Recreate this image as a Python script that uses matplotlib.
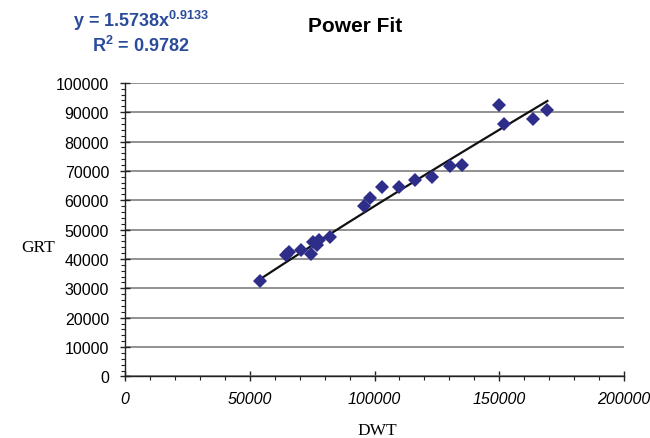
import numpy as np
import matplotlib
matplotlib.use("Agg")
import matplotlib.pyplot as plt
from matplotlib.ticker import MultipleLocator

# Data
dwt = [54300, 64500, 65700, 70500, 74500, 75400, 77000, 77800, 82200,
       95600, 98200, 103200, 109800, 116200, 123200, 130100, 134900,
       149900, 152100, 163700, 169300]
grt = [32600, 41400, 42400, 42900, 41700, 45800, 44800, 46500, 47500,
       57900, 60800, 64600, 64600, 66800, 67800, 71500, 71900,
       92300, 86000, 87600, 90600]
fit_a = 1.5738
fit_b = 0.9133
r_squared = 0.9782
title_text = "Power Fit"
x_label = "DWT"
y_label = "GRT"

x = np.array(dwt, dtype=float)
y = np.array(grt, dtype=float)
xf = np.linspace(x.min(), x.max(), 200)
yf = fit_a * xf ** fit_b

equation_text = r"y = %.4fx$^{\mathregular{%.4f}}$" % (fit_a, fit_b)
r2_text = r"R$^{\mathregular{2}}$ = %.4f" % r_squared

fig = plt.figure(figsize=(6.5, 4.39), dpi=100)
ax = fig.add_axes([125/650, 1-377.4/439, (624-125)/650, (377.4-83.8)/439])

ax.set_xlim(0, 200000)
ax.set_ylim(0, 100000)
ax.yaxis.set_major_locator(MultipleLocator(10000))
ax.yaxis.set_minor_locator(MultipleLocator(2000))
ax.xaxis.set_major_locator(MultipleLocator(50000))
ax.xaxis.set_minor_locator(MultipleLocator(10000))

ax.grid(axis="y", which="major", color="#7f7f7f", linewidth=1.2)
ax.set_axisbelow(True)
for s in ["top", "right"]:
    ax.spines[s].set_visible(False)
for s in ["left", "bottom"]:
    ax.spines[s].set_color("#222222")
    ax.spines[s].set_linewidth(1.0)

ax.tick_params(axis="both", which="major", direction="inout", length=7,
               width=1.0, color="#222222")
ax.tick_params(axis="both", which="minor", direction="out", length=3,
               width=0.8, color="#222222")
ax.tick_params(axis="y", which="major", labelsize=11.5, pad=8)
ax.tick_params(axis="x", which="major", labelsize=11.5, pad=7)

for lab in ax.get_yticklabels():
    lab.set_fontfamily("Liberation Sans")
for lab in ax.get_xticklabels():
    lab.set_fontfamily("Liberation Sans")
    lab.set_fontstyle("italic")

ax.plot(xf, yf, color="#111111", linewidth=1.6, zorder=3)
ax.plot(x, y, linestyle="none", marker="D", markersize=7,
        color="#2e2e8a", markeredgewidth=0, zorder=4)

fig.text(377/650, 1-431/439, x_label, family="Liberation Serif",
         fontsize=12.5, ha="center", va="center")
fig.text(38/650, 1-248/439, y_label, family="Liberation Serif",
         fontsize=12.5, ha="center", va="center")
fig.text(355/650, 1-27/439, title_text, family="Liberation Sans",
         fontweight="bold", fontsize=15, ha="center", va="center")
fig.text(73/650, 1-21/439, equation_text, family="Liberation Sans",
         fontweight="bold", fontsize=13, color="#2b4c9b", ha="left", va="center")
fig.text(92/650, 1-46/439, r2_text, family="Liberation Sans",
         fontweight="bold", fontsize=13, color="#2b4c9b", ha="left", va="center")

fig.savefig("out.png", dpi=100)
